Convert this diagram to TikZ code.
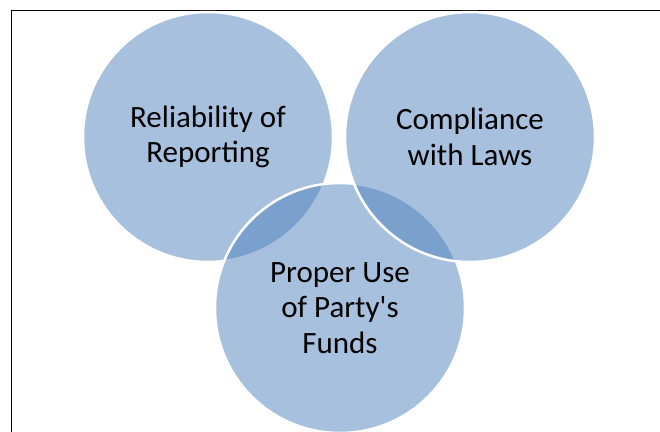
\documentclass[tikz,border=0pt]{standalone}
\usepackage{fontspec}
\newfontfamily\vennfont{Carlito}
\definecolor{vennblue}{HTML}{4F81BD}
\begin{document}
\begin{tikzpicture}[x=1pt,y=-1pt,
  venn/.style={circle, minimum size=250pt, inner sep=0pt, fill=vennblue, fill opacity=0.5,
    draw=white, draw opacity=1, line width=2.5pt, text opacity=1, text=black,
    align=center, font=\vennfont\fontsize{31}{35.5}\selectfont}]
\useasboundingbox (0,0) rectangle (660,431);
\coordinate (ftop) at (11.5,10.5);
\coordinate (fright) at (661,10.5);
\coordinate (fbot) at (11.5,432);
\draw[line width=1.3pt] (fbot) -- (ftop) -- (fright);
\node[venn] (rel) at (208,137) {Reliability of\\Reporting};
\node[venn] (use) at (340,308) {Proper Use\\of Party's\\Funds};
\node[venn] (law) at (470,137) {Compliance\\with Laws};
\end{tikzpicture}
\end{document}
